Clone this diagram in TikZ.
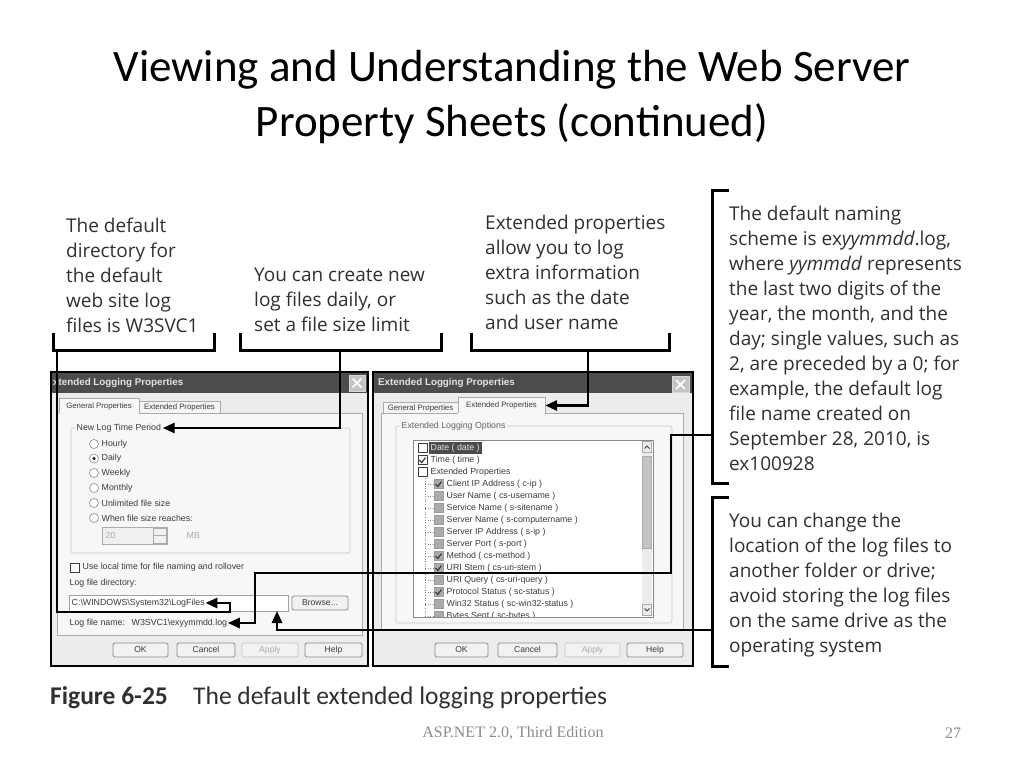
\documentclass[tikz,border=0pt]{standalone}
\usepackage{fontspec}
\setmainfont{Open Sans}
\newfontfamily\titlefont{Carlito}
\newfontfamily\uifont{Liberation Sans}
\newfontfamily\footfont{Liberation Serif}
\usetikzlibrary{arrows.meta}
\definecolor{calltext}{HTML}{303030}
\definecolor{winbg}{HTML}{ECECEC}
\definecolor{panebg}{HTML}{F7F7F7}
\definecolor{titlebar}{HTML}{4C4C4C}
\definecolor{titletext}{HTML}{E4E4E4}
\definecolor{uigray}{HTML}{ABABAB}
\definecolor{uiline}{HTML}{8A8A8A}
\definecolor{uitext}{HTML}{3C3C3C}
\definecolor{foottext}{HTML}{8C8C8C}
\tikzstyle{callout}=[anchor=north west, inner sep=0pt, align=left, text=calltext, font=\fontsize{19}{25}\selectfont]
\tikzstyle{ui label}=[anchor=west, inner sep=0.5pt, text=uitext, font=\uifont\fontsize{8.8}{10}\selectfont]
\tikzstyle{ui small}=[inner sep=0pt, text=uitext, text height=5.6pt, text depth=1.6pt, font=\uifont\fontsize{7.8}{9}\selectfont]
\tikzstyle{window}=[draw=black, line width=2pt, fill=winbg]
\tikzstyle{title bar}=[fill=titlebar]
\tikzstyle{title label}=[anchor=west, inner sep=0pt, text=titletext, font=\uifont\bfseries\fontsize{9.8}{11}\selectfont]
\tikzstyle{pane}=[draw=uigray, fill=panebg, line width=0.6pt]
\tikzstyle{group box}=[draw=uigray!70, rounded corners=2pt, line width=0.6pt]
\tikzstyle{button}=[draw=uiline, fill=white!95!black, rounded corners=1.5pt, line width=0.8pt, inner sep=0pt, text height=6.2pt, text depth=1.8pt, text=uitext, font=\uifont\fontsize{8.6}{10}\selectfont]
\tikzstyle{field}=[draw=uiline!80, fill=white, line width=0.6pt]
\tikzstyle{radio}=[draw=uiline, fill=white, line width=0.6pt]
\tikzstyle{box white}=[draw=uitext, fill=white, line width=0.6pt]
\tikzstyle{box grey}=[draw=uigray!90!black, fill=uigray, line width=0.6pt]
\tikzstyle{check mark}=[line width=1.2pt, draw=uitext]
\tikzstyle{close box}=[draw=white!85!black, fill=uigray!70, line width=0.8pt]
\tikzstyle{bracket edge}=[-, line width=3pt, draw=black]
\tikzstyle{arrow edge}=[-{Triangle[length=12pt,width=10pt]}, line width=2.8pt, draw=black]
\pgfdeclarelayer{nodelayer}
\pgfdeclarelayer{edgelayer}
\pgfsetlayers{main,nodelayer,edgelayer}
\begin{document}
\begin{tikzpicture}[x=1pt, y=-1pt]
	\useasboundingbox [fill=white] (0,0) rectangle (1024,768);
	\begin{pgfonlayer}{nodelayer}
		% slide title and callouts
		\node [font=\titlefont\fontsize{45}{55}\selectfont, align=center] (0) at (512,97) {Viewing and Understanding the Web Server\\Property Sheets (continued)};
		\node [style=callout] (1) at (66,218) {The default\\directory for\\the default\\web site log\\files is W3SVC1};
		\node [style=callout] (2) at (254,268) {You can create new\\log files daily, or\\set a file size limit};
		\node [style=callout] (3) at (485,215) {Extended properties\\allow you to log\\extra information\\such as the date\\and user name};
		\node [style=callout] (4) at (729,206) {The default naming\\scheme is ex\textit{yymmdd}.log,\\where \textit{yymmdd} represents\\the last two digits of the\\year, the month, and the\\day; single values, such as\\2, are preceded by a 0; for\\example, the default log\\file name created on\\September 28, 2010, is\\ex100928};
		\node [style=callout] (5) at (729,513) {You can change the\\location of the log files to\\another folder or drive;\\avoid storing the log files\\on the same drive as the\\operating system};
		\node [anchor=base west, inner sep=0pt, text=calltext, font=\titlefont\bfseries\fontsize{25.5}{28}\selectfont] (6) at (50,704) {Figure 6-25};
		\node [anchor=base west, inner sep=0pt, text=calltext, font=\titlefont\fontsize{25.5}{28}\selectfont] (7) at (193,704) {The default extended logging properties};
		\node [text=foottext, font=\footfont\fontsize{16}{18}\selectfont] (8) at (513,733) {ASP.NET 2.0, Third Edition};
		\node [text=foottext, font=\footfont\fontsize{16}{18}\selectfont] (9) at (953,733) {27};

		% left window: General Properties
		\draw [style=window] (51,372) rectangle (368,666);
		\fill [style=title bar] (52,373) rectangle (367,393);
		\node [style=title label] (10) at (53,383) {xtended Logging Properties};
		\draw [style=close box] (349,375) rectangle (365,391);
		\draw [white, line width=1.6pt] (352.5,378.5) -- (361.5,387.5) (361.5,378.5) -- (352.5,387.5);
		\draw [style=pane] (57,413) rectangle (362,635);
		\draw [style=pane, fill=winbg!50!white] (139,401) rectangle (220,413);
		\fill [panebg] (59,398) rectangle (139,414);
		\draw [uigray, line width=0.6pt] (59,413) -- (59,398) -- (139,398) -- (139,413);
		\node [style=ui small] (11) at (99,406) {General Properties};
		\node [style=ui small] (12) at (179.5,407.5) {Extended Properties};
		\draw [style=group box] (71,428) rectangle (350,553);
		\node [style=ui label, fill=panebg, inner sep=1.5pt] (13) at (75,428) {New Log Time Period};
		\draw [style=radio] (94,444) circle (4.5pt);
		\draw [style=radio] (94,458.5) circle (4.5pt);
		\fill [uitext] (94,458.5) circle (1.8pt);
		\draw [style=radio] (94,473) circle (4.5pt);
		\draw [style=radio] (94,488) circle (4.5pt);
		\draw [style=radio] (94,503) circle (4.5pt);
		\draw [style=radio] (94,518) circle (4.5pt);
		\node [style=ui label] (14) at (101,444) {Hourly};
		\node [style=ui label] (15) at (101,458.5) {Daily};
		\node [style=ui label] (16) at (101,473) {Weekly};
		\node [style=ui label] (17) at (101,488) {Monthly};
		\node [style=ui label] (18) at (101,503) {Unlimited file size};
		\node [style=ui label] (19) at (101,518) {When file size reaches:};
		\draw [style=field, fill=white!94!black, draw=uigray] (102,527) rectangle (167,544);
		\draw [draw=uigray, line width=0.6pt] (153,528) rectangle (166,543) (153,535.5) -- (166,535.5);
		\node [style=ui label, text=uigray] (20) at (105,535.5) {20};
		\node [style=ui label, text=uigray] (21) at (186,535.5) {MB};
		\draw [style=box white] (70,563) rectangle (79,572);
		\node [style=ui label] (22) at (82,567.5) {Use local time for file naming and rollover};
		\node [style=ui label] (23) at (69,583) {Log file directory:};
		\draw [style=field] (69,595) rectangle (288,611);
		\node [style=ui label] (24) at (71,603) {C:\textbackslash WINDOWS\textbackslash System32\textbackslash LogFiles};
		\node [style=button, minimum width=56pt, minimum height=14pt] (25) at (320,603) {Browse...};
		\node [style=ui label] (26) at (69,623) {Log file name:};
		\node [style=ui label] (27) at (131,623) {W3SVC1\textbackslash exyymmdd.log};
		\node [style=button, minimum width=55pt, minimum height=14pt] (28) at (140.5,650) {OK};
		\node [style=button, minimum width=58pt, minimum height=14pt] (29) at (206,650) {Cancel};
		\node [style=button, minimum width=56pt, minimum height=14pt, draw=uigray!70, text=uigray] (30) at (270,650) {Apply};
		\node [style=button, minimum width=57pt, minimum height=14pt] (31) at (333.5,650) {Help};

		% right window: Extended Properties
		\draw [style=window] (373,372) rectangle (693,666);
		\fill [style=title bar] (374,373) rectangle (692,393);
		\node [style=title label] (32) at (378,383) {Extended Logging Properties};
		\draw [style=close box] (672,376) rectangle (689,392);
		\draw [white, line width=1.6pt] (676,380) -- (685,389) (685,380) -- (676,389);
		\draw [style=pane] (381,413) rectangle (683,630);
		\draw [style=pane, fill=winbg!50!white] (383,402) rectangle (458,413);
		\fill [panebg] (458,397) rectangle (545,414);
		\draw [uigray, line width=0.6pt] (458,413) -- (458,397) -- (545,397) -- (545,413);
		\node [style=ui small] (33) at (420.5,408) {General Properties};
		\node [style=ui small, minimum width=87pt, minimum height=16pt] (34) at (501.5,405.5) {Extended Properties};
		\draw [style=group box] (396,426) rectangle (672,623);
		\node [style=ui label, fill=panebg, inner sep=1.5pt, text=uitext!80] (35) at (400,426) {Extended Logging Options};
		\draw [style=field, draw=uiline] (413,440) rectangle (653,617);
		\fill [winbg] (642,441) rectangle (652,616);
		\draw [draw=uigray, fill=uigray!70, line width=0.6pt] (642.5,456) rectangle (651.5,548);
		\draw [draw=uigray, fill=white!92!black, line width=0.6pt] (642.5,441.5) rectangle (651.5,452.5);
		\draw [draw=uigray, fill=white!92!black, line width=0.6pt] (642.5,604.5) rectangle (651.5,615.5);
		\draw [uitext, line width=1pt] (644.5,448.5) -- (647,446) -- (649.5,448.5);
		\draw [uitext, line width=1pt] (644.5,608.5) -- (647,611) -- (649.5,608.5);
		\begin{scope}
			\clip (414,441) rectangle (641,616);
			\draw [uiline, dotted, line width=0.6pt] (425,478) -- (425,620);
			\draw [uiline, dotted, line width=0.6pt] (425,484) -- (433,484) (425,496) -- (433,496) (425,508) -- (433,508) (425,520) -- (433,520) (425,532) -- (433,532) (425,544) -- (433,544) (425,556) -- (433,556) (425,568) -- (433,568) (425,580) -- (433,580) (425,592) -- (433,592) (425,604) -- (433,604) (425,616) -- (433,616);
			\draw [style=box white] (418,443.5) rectangle (427,452.5);
			\fill [titlebar] (429,442) rectangle (482,454);
			\node [style=ui label, text=titletext] (36) at (430,448) {Date ( date )};
			\draw [style=box white] (418,455.5) rectangle (427,464.5);
			\draw [style=check mark] (419.5,460) -- (421.8,462.5) -- (425.5,457.5);
			\node [style=ui label] (37) at (430,460) {Time ( time )};
			\draw [style=box white] (418,467.5) rectangle (427,476.5);
			\node [style=ui label] (38) at (430,472) {Extended Properties};
			\draw [style=box grey] (434,479.5) rectangle (443,488.5);
			\draw [style=check mark] (435.5,484) -- (437.8,486.5) -- (441.5,481.5);
			\node [style=ui label] (39) at (446,484) {Client IP Address ( c-ip )};
			\draw [style=box grey] (434,491.5) rectangle (443,500.5);
			\node [style=ui label] (40) at (446,496) {User Name ( cs-username )};
			\draw [style=box grey] (434,503.5) rectangle (443,512.5);
			\node [style=ui label] (41) at (446,508) {Service Name ( s-sitename )};
			\draw [style=box grey] (434,515.5) rectangle (443,524.5);
			\node [style=ui label] (42) at (446,520) {Server Name ( s-computername )};
			\draw [style=box grey] (434,527.5) rectangle (443,536.5);
			\node [style=ui label] (43) at (446,532) {Server IP Address ( s-ip )};
			\draw [style=box grey] (434,539.5) rectangle (443,548.5);
			\node [style=ui label] (44) at (446,544) {Server Port ( s-port )};
			\draw [style=box grey] (434,551.5) rectangle (443,560.5);
			\draw [style=check mark] (435.5,556) -- (437.8,558.5) -- (441.5,553.5);
			\node [style=ui label] (45) at (446,556) {Method ( cs-method )};
			\draw [style=box grey] (434,563.5) rectangle (443,572.5);
			\draw [style=check mark] (435.5,568) -- (437.8,570.5) -- (441.5,565.5);
			\node [style=ui label] (46) at (446,568) {URI Stem ( cs-uri-stem )};
			\draw [style=box grey] (434,575.5) rectangle (443,584.5);
			\node [style=ui label] (47) at (446,580) {URI Query ( cs-uri-query )};
			\draw [style=box grey] (434,587.5) rectangle (443,596.5);
			\draw [style=check mark] (435.5,592) -- (437.8,594.5) -- (441.5,589.5);
			\node [style=ui label] (48) at (446,592) {Protocol Status ( sc-status )};
			\draw [style=box grey] (434,599.5) rectangle (443,608.5);
			\node [style=ui label] (49) at (446,604) {Win32 Status ( sc-win32-status )};
			\draw [style=box grey] (434,611.5) rectangle (443,620.5);
			\node [style=ui label] (50) at (446,616) {Bytes Sent ( sc-bytes )};
		\end{scope}
		\node [style=button, minimum width=53pt, minimum height=14pt] (51) at (461.5,650) {OK};
		\node [style=button, minimum width=59pt, minimum height=14pt] (52) at (527.5,650) {Cancel};
		\node [style=button, minimum width=55pt, minimum height=14pt, draw=uigray!70, text=uigray] (53) at (592.5,650) {Apply};
		\node [style=button, minimum width=56pt, minimum height=14pt] (54) at (655,650) {Help};
	\end{pgfonlayer}
	\begin{pgfonlayer}{edgelayer}
		% brackets round the callouts
		\draw [style=bracket edge] (53,333) -- (53,350) -- (214,350) -- (214,333);
		\draw [style=bracket edge] (240,333) -- (240,350) -- (441,350) -- (441,333);
		\draw [style=bracket edge] (471,333) -- (471,350) -- (669,350) -- (669,333);
		\draw [style=bracket edge] (729,190) -- (712,190) -- (712,483) -- (729,483);
		\draw [style=bracket edge] (729,497) -- (712,497) -- (712,666) -- (729,666);
		\coordinate (60) at (57,350);
		\coordinate (61) at (230,612);
		\coordinate (62) at (340,350);
		\coordinate (63) at (588,350);
		\coordinate (64) at (712,435);
		\coordinate (65) at (671,573);
		\coordinate (66) at (255,623);
		\coordinate (67) at (712,630);
		\coordinate (68) at (277,611);
		\draw [style=arrow edge] (60) |- (61) |- (24.east);
		\draw [style=arrow edge] (62) |- (13.east);
		\draw [style=arrow edge] (63) |- (34.east);
		\draw [style=arrow edge] (64) -| (65) -| (66) -- (27.east);
		\draw [style=arrow edge] (67) -| (68);
	\end{pgfonlayer}
\end{tikzpicture}
\end{document}
